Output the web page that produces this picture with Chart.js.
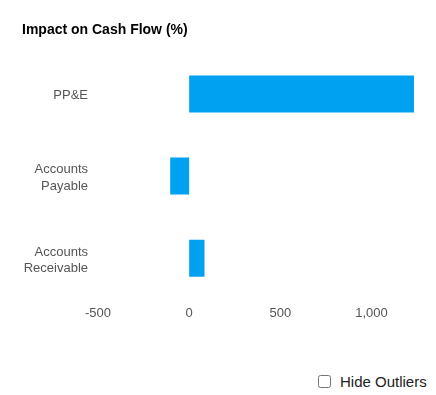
<!DOCTYPE html>
<html>
<head>
<meta charset="utf-8">
<script src="https://cdn.jsdelivr.net/npm/chart.js@4/dist/chart.umd.min.js"></script>
<style>
  html, body { margin: 0; padding: 0; background: #fff; }
  body { width: 436px; height: 395px; position: relative; overflow: hidden; font-family: "Liberation Sans", Arial, sans-serif; }
  #wrap { position: absolute; left: 0; top: 0; width: 436px; height: 340px; }
  #outliers { position: absolute; left: 318px; top: 373px; font-size: 15px; color: #222; display: flex; align-items: center; }
  #outliers input { margin: 0 9px 0 0; width: 13px; height: 13px; }
</style>
</head>
<body>
<div id="wrap"><canvas id="c" width="436" height="340"></canvas></div>
<label id="outliers"><input type="checkbox">Hide Outliers</label>
<script>
const categories = [["PP&E"], ["Accounts", "Payable"], ["Accounts", "Receivable"]];
const impactValues = [1233, -104, 84];
const tickValues = [-500, 0, 500, 1000];
const chartTitle = "Impact on Cash Flow (%)";

new Chart(document.getElementById('c'), {
  type: 'bar',
  data: {
    labels: categories,
    datasets: [{
      data: impactValues,
      backgroundColor: '#00a1f0',
      borderWidth: 0,
      barPercentage: 0.45,
      categoryPercentage: 1
    }]
  },
  options: {
    indexAxis: 'y',
    responsive: false,
    animation: false,
    layout: { padding: { left: 22, right: 22, top: 0, bottom: 13 } },
    plugins: {
      legend: { display: false },
      tooltip: { enabled: false },
      title: {
        display: true,
        text: chartTitle,
        align: 'start',
        color: '#000',
        font: { family: '"Liberation Sans", Arial, sans-serif', size: 14, weight: 'bold' },
        padding: { top: 22, bottom: 14 }
      }
    },
    scales: {
      x: {
        min: Math.min(...tickValues),
        max: Math.max(...impactValues),
        grid: { display: false, drawTicks: false },
        border: { display: false },
        afterBuildTicks: (axis) => { axis.ticks = tickValues.map(v => ({ value: v })); },
        ticks: {
          padding: 6,
          color: '#555',
          font: { family: '"Liberation Sans", Arial, sans-serif', size: 13 },
          callback: (v) => v.toLocaleString('en-US')
        }
      },
      y: {
        grid: { display: false, drawTicks: false },
        border: { display: false },
        afterFit: (axis) => { axis.width = 76; },
        ticks: {
          padding: 10,
          labelOffset: 2,
          color: '#555',
          font: { family: '"Liberation Sans", Arial, sans-serif', size: 13, lineHeight: 1.28 }
        }
      }
    }
  }
});
</script>
</body>
</html>
